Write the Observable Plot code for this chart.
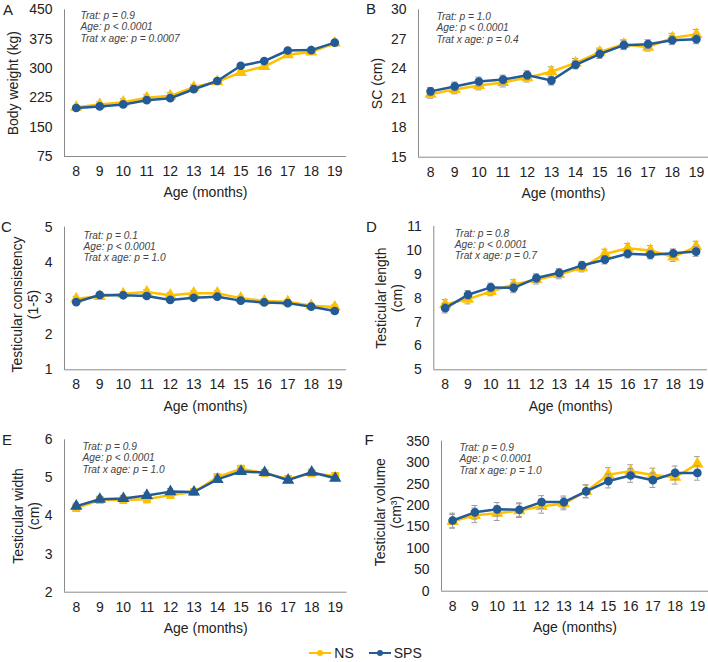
<!DOCTYPE html>
<html>
<head>
<meta charset="utf-8">
<script src="https://cdn.jsdelivr.net/npm/d3@7"></script>
<script src="https://cdn.jsdelivr.net/npm/@observablehq/plot@0.6"></script>
<style>
  html, body { margin: 0; padding: 0; background: #fff; }
  #wrap { position: relative; width: 708px; height: 662px; font-family: "Liberation Sans", Arial, sans-serif; color: #222; }
  .panel { position: absolute; }
  #legend { position: absolute; top: 645px; left: 0; width: 708px; display: flex; justify-content: center; align-items: center; font-size: 14px; gap: 14px; padding-left: 22px; box-sizing: border-box; }
  #legend span.item { display: inline-flex; align-items: center; gap: 2px; }
</style>
</head>
<body>
<div id="wrap"><div id="legend"></div></div>
<script>
// ---------- data ----------
const months = [8, 9, 10, 11, 12, 13, 14, 15, 16, 17, 18, 19];
const groups = ["NS", "SPS"];
const groupColors = ["#FFC000", "#235B97"];

// A: body weight (kg)
const bwNS  = [201, 208, 214, 225, 230, 252, 266, 290, 305, 335, 342, 365];
const bwSPS = [199, 203, 208, 219, 224, 247, 268, 307, 319, 346, 347, 366];
const bwErrNS  = [5, 7, 8, 8, 8, 7, 6, 6, 6, 6, 6, 5];
const bwErrSPS = [5, 6, 6, 6, 6, 6, 5, 5, 5, 5, 5, 5];
const bwTicks = [75, 150, 225, 300, 375, 450];

// B: scrotal circumference (cm)
const scNS  = [21.4, 21.9, 22.3, 22.6, 23.1, 23.7, 24.6, 25.7, 26.5, 26.2, 27.15, 27.5];
const scSPS = [21.7, 22.2, 22.7, 22.9, 23.35, 22.8, 24.4, 25.5, 26.4, 26.5, 26.9, 27.0];
const scErrNS  = [0.4, 0.45, 0.45, 0.45, 0.45, 0.5, 0.45, 0.4, 0.45, 0.4, 0.45, 0.5];
const scErrSPS = [0.4, 0.45, 0.45, 0.45, 0.45, 0.45, 0.4, 0.45, 0.45, 0.45, 0.45, 0.45];
const scTicks = [15, 18, 21, 24, 27, 30];

// C: testicular consistency (1-5)
const tcNS  = [2.99, 3.06, 3.13, 3.18, 3.09, 3.15, 3.15, 3.01, 2.93, 2.91, 2.80, 2.76];
const tcSPS = [2.90, 3.10, 3.09, 3.07, 2.96, 3.02, 3.05, 2.94, 2.89, 2.87, 2.77, 2.65];
const tcErrNS  = [0.07, 0.06, 0.06, 0.07, 0.07, 0.07, 0.07, 0.06, 0.06, 0.05, 0.05, 0.06];
const tcErrSPS = [0.05, 0.05, 0.05, 0.05, 0.05, 0.05, 0.05, 0.05, 0.04, 0.04, 0.05, 0.05];
const tcTicks = [1, 2, 3, 4, 5];

// D: testicular length (cm)
const tlNS  = [7.74, 7.96, 8.28, 8.57, 8.77, 8.99, 9.27, 9.85, 10.09, 10.0, 9.72, 10.16];
const tlSPS = [7.58, 8.14, 8.45, 8.43, 8.84, 9.06, 9.37, 9.61, 9.86, 9.82, 9.88, 9.95];
const tlErrNS  = [0.2, 0.2, 0.18, 0.2, 0.18, 0.18, 0.17, 0.2, 0.2, 0.2, 0.18, 0.22];
const tlErrSPS = [0.2, 0.18, 0.18, 0.2, 0.18, 0.17, 0.17, 0.18, 0.18, 0.18, 0.18, 0.2];
const tlTicks = [5, 6, 7, 8, 9, 10, 11];

// E: testicular width (cm)
const twNS  = [4.21, 4.42, 4.42, 4.44, 4.55, 4.63, 5.02, 5.24, 5.12, 4.97, 5.12, 5.05];
const twSPS = [4.26, 4.44, 4.46, 4.54, 4.64, 4.63, 4.96, 5.17, 5.14, 4.94, 5.15, 4.99];
const twErrNS  = [0.09, 0.08, 0.08, 0.09, 0.09, 0.07, 0.08, 0.08, 0.08, 0.07, 0.08, 0.07];
const twErrSPS = [0.08, 0.08, 0.08, 0.08, 0.08, 0.07, 0.08, 0.08, 0.08, 0.07, 0.08, 0.07];
const twTicks = [2, 3, 4, 5, 6];

// F: testicular volume (cm3)
const tvNS  = [163, 177, 182, 188, 198, 204, 233, 272, 280, 271, 266, 297];
const tvSPS = [165, 184, 191, 190, 208, 208, 233, 257, 270, 259, 276, 276];
const tvErrNS  = [16, 17, 17, 16, 16, 14, 15, 16, 15, 16, 16, 17];
const tvErrSPS = [17, 16, 16, 16, 15, 14, 15, 16, 16, 17, 16, 17];
const tvTicks = [0, 50, 100, 150, 200, 250, 300, 350];

// ---------- panels ----------
const font = "'Liberation Sans', Arial, sans-serif";
const panels = [
  {letter: "A", left: 0,   top: 0,   h: 210, ml: 64,   mr: 8, mt: 9.3,  bottom: 156,   ns: bwNS, sps: bwSPS, ens: bwErrNS, esps: bwErrSPS, ticks: bwTicks,
   ylabel: ["Body weight (kg)"], ylx: 13.3, stats: "Trat: p = 0.9\nAge: p < 0.0001\nTrat x age: p = 0.0007", sdx: 16, sdy: 1.5, lx: 2.5, ly: 9.3, sym: ["triangle", "circle"]},
  {letter: "B", left: 354, top: 0,   h: 210, ml: 64,   mr: 0, mt: 9.3,  bottom: 156.7, ns: scNS, sps: scSPS, ens: scErrNS, esps: scErrSPS, ticks: scTicks,
   ylabel: ["SC (cm)"], ylx: 23, stats: "Trat: p = 1.0\nAge: p < 0.0001\nTrat x age: p = 0.4", sdx: 18, sdy: 2.5, lx: 11.5, ly: 8.5, sym: ["triangle", "circle"]},
  {letter: "C", left: 0,   top: 210, h: 210, ml: 64,   mr: 8, mt: 16.7, bottom: 159.3, ns: tcNS, sps: tcSPS, ens: tcErrNS, esps: tcErrSPS, ticks: tcTicks,
   ylabel: ["Testicular consistency", "(1-5)"], ylx: 25, yldy: 6, stats: "Trat: p = 0.1\nAge: p < 0.0001\nTrat x age: p = 1.0", sdx: 19, sdy: 3.5, lx: 0.5, ly: 16.7, sym: ["triangle", "circle"]},
  {letter: "D", left: 354, top: 210, h: 210, ml: 79.3, mr: 1, mt: 16,   bottom: 159.3, ns: tlNS, sps: tlSPS, ens: tlErrNS, esps: tlErrSPS, ticks: tlTicks,
   ylabel: ["Testicular length", "(cm)"], ylx: 35, stats: "Trat: p = 0.8\nAge: p < 0.0001\nTrat x age: p = 0.7", sdx: 21, sdy: 2.5, lx: 11.5, ly: 16.7, sym: ["triangle", "circle"]},
  {letter: "E", left: 0,   top: 420, h: 220, ml: 64,   mr: 7.5, mt: 19.3, bottom: 171.7, ns: twNS, sps: twSPS, ens: twErrNS, esps: twErrSPS, ticks: twTicks,
   ylabel: ["Testicular width", "(cm)"], ylx: 26, stats: "Trat: p = 0.9\nAge: p < 0.0001\nTrat x age: p = 1.0", sdx: 18, sdy: 2.5, lx: 1.5, ly: 19.3, sym: ["square", "triangle"]},
  {letter: "F", left: 354, top: 420, h: 220, ml: 87,   mr: 0, mt: 20.7, bottom: 170.7, ns: tvNS, sps: tvSPS, ens: tvErrNS, esps: tvErrSPS, ticks: tvTicks,
   ylabel: ["Testicular volume", "(cm³)"], ylx: 34, yldy: -4, stats: "Trat: p = 0.9\nAge: p < 0.0001\nTrat x age: p = 1.0", sdx: 18, sdy: 2, lx: 10, ly: 20, sym: ["triangle", "circle"]}
];

const wrap = document.getElementById("wrap");
const axisColor = "#8a8a8a";
const errColor = "#9c9c9c";

for (const p of panels) {
  const rows = [];
  groups.forEach((g, gi) => {
    const vals = gi === 0 ? p.ns : p.sps;
    const errs = gi === 0 ? p.ens : p.esps;
    months.forEach((m, i) => rows.push({group: g, month: m, value: vals[i], err: errs[i]}));
  });
  const yMin = p.ticks[0], yMax = p.ticks[p.ticks.length - 1];
  const mb = p.h - p.bottom;
  const marks = [
    Plot.ruleY([yMin], {stroke: axisColor, strokeWidth: 1}),
    Plot.ruleX([7.5], {stroke: axisColor, strokeWidth: 1}),
    Plot.axisY({ticks: p.ticks, tickSize: 0, tickPadding: 12, fontSize: 14, label: null, tickFormat: d => String(d)}),
    Plot.axisX({ticks: months, tickSize: 0, tickPadding: 9.5, fontSize: 14, label: null, tickFormat: d => String(d)}),
    Plot.text(["Age (months)"], {frameAnchor: "bottom", dy: 36.5, fontSize: 14, lineAnchor: "middle"}),
    Plot.text([p.stats], {frameAnchor: "top-left", dx: p.sdx, dy: p.sdy, textAnchor: "start", lineAnchor: "top", fontSize: 10.2, fontStyle: "italic", lineHeight: 1.1, fill: "#444"}),
    Plot.text([p.letter], {frameAnchor: "top-left", dx: p.lx - p.ml, dy: p.ly - p.mt, textAnchor: "start", lineAnchor: "middle", fontSize: 15})
  ];
  const nl = p.ylabel.length;
  p.ylabel.forEach((line, li) => {
    marks.push(Plot.text([line], {frameAnchor: "left", dx: p.ylx - p.ml + (li - (nl - 1) / 2) * 16, dy: p.yldy || 0, rotate: -90, fontSize: 14, lineAnchor: "middle", textAnchor: "middle"}));
  });
  groups.forEach((g, gi) => {
    const d = rows.filter(r => r.group === g);
    const c = groupColors[gi];
    marks.push(
      Plot.line(d, {x: "month", y: "value", stroke: c, strokeWidth: 2.5}),
      Plot.ruleX(d, {x: "month", y1: r => r.value - r.err, y2: r => r.value + r.err, stroke: errColor, strokeWidth: 1}),
      Plot.ruleY(d, {y: r => r.value + r.err, x1: r => r.month - 0.13, x2: r => r.month + 0.13, stroke: errColor, strokeWidth: 1}),
      Plot.ruleY(d, {y: r => r.value - r.err, x1: r => r.month - 0.13, x2: r => r.month + 0.13, stroke: errColor, strokeWidth: 1}),
      Plot.dot(d, {x: "month", y: "value", fill: c, stroke: c, symbol: () => p.sym[gi], r: 3.6})
    );
  });
  const svg = Plot.plot({
    width: 354, height: p.h,
    marginLeft: p.ml, marginRight: p.mr, marginTop: p.mt, marginBottom: mb,
    x: {domain: [7.5, 19.5], axis: null},
    y: {domain: [yMin, yMax], axis: null},
    symbol: {type: "identity"},
    style: {fontFamily: font, color: "#222", background: "transparent", overflow: "visible"},
    marks
  });
  const div = document.createElement("div");
  div.className = "panel";
  div.style.left = p.left + "px";
  div.style.top = p.top + "px";
  div.appendChild(svg);
  wrap.insertBefore(div, document.getElementById("legend"));
}

// ---------- legend ----------
const legend = document.getElementById("legend");
groups.forEach((g, gi) => {
  const item = document.createElement("span");
  item.className = "item";
  item.innerHTML = `<svg width="24" height="10"><line x1="1" y1="5" x2="23" y2="5" stroke="${groupColors[gi]}" stroke-width="2"/><circle cx="12" cy="5" r="3" fill="${groupColors[gi]}"/></svg><span>${g}</span>`;
  legend.appendChild(item);
});
</script>
</body>
</html>
